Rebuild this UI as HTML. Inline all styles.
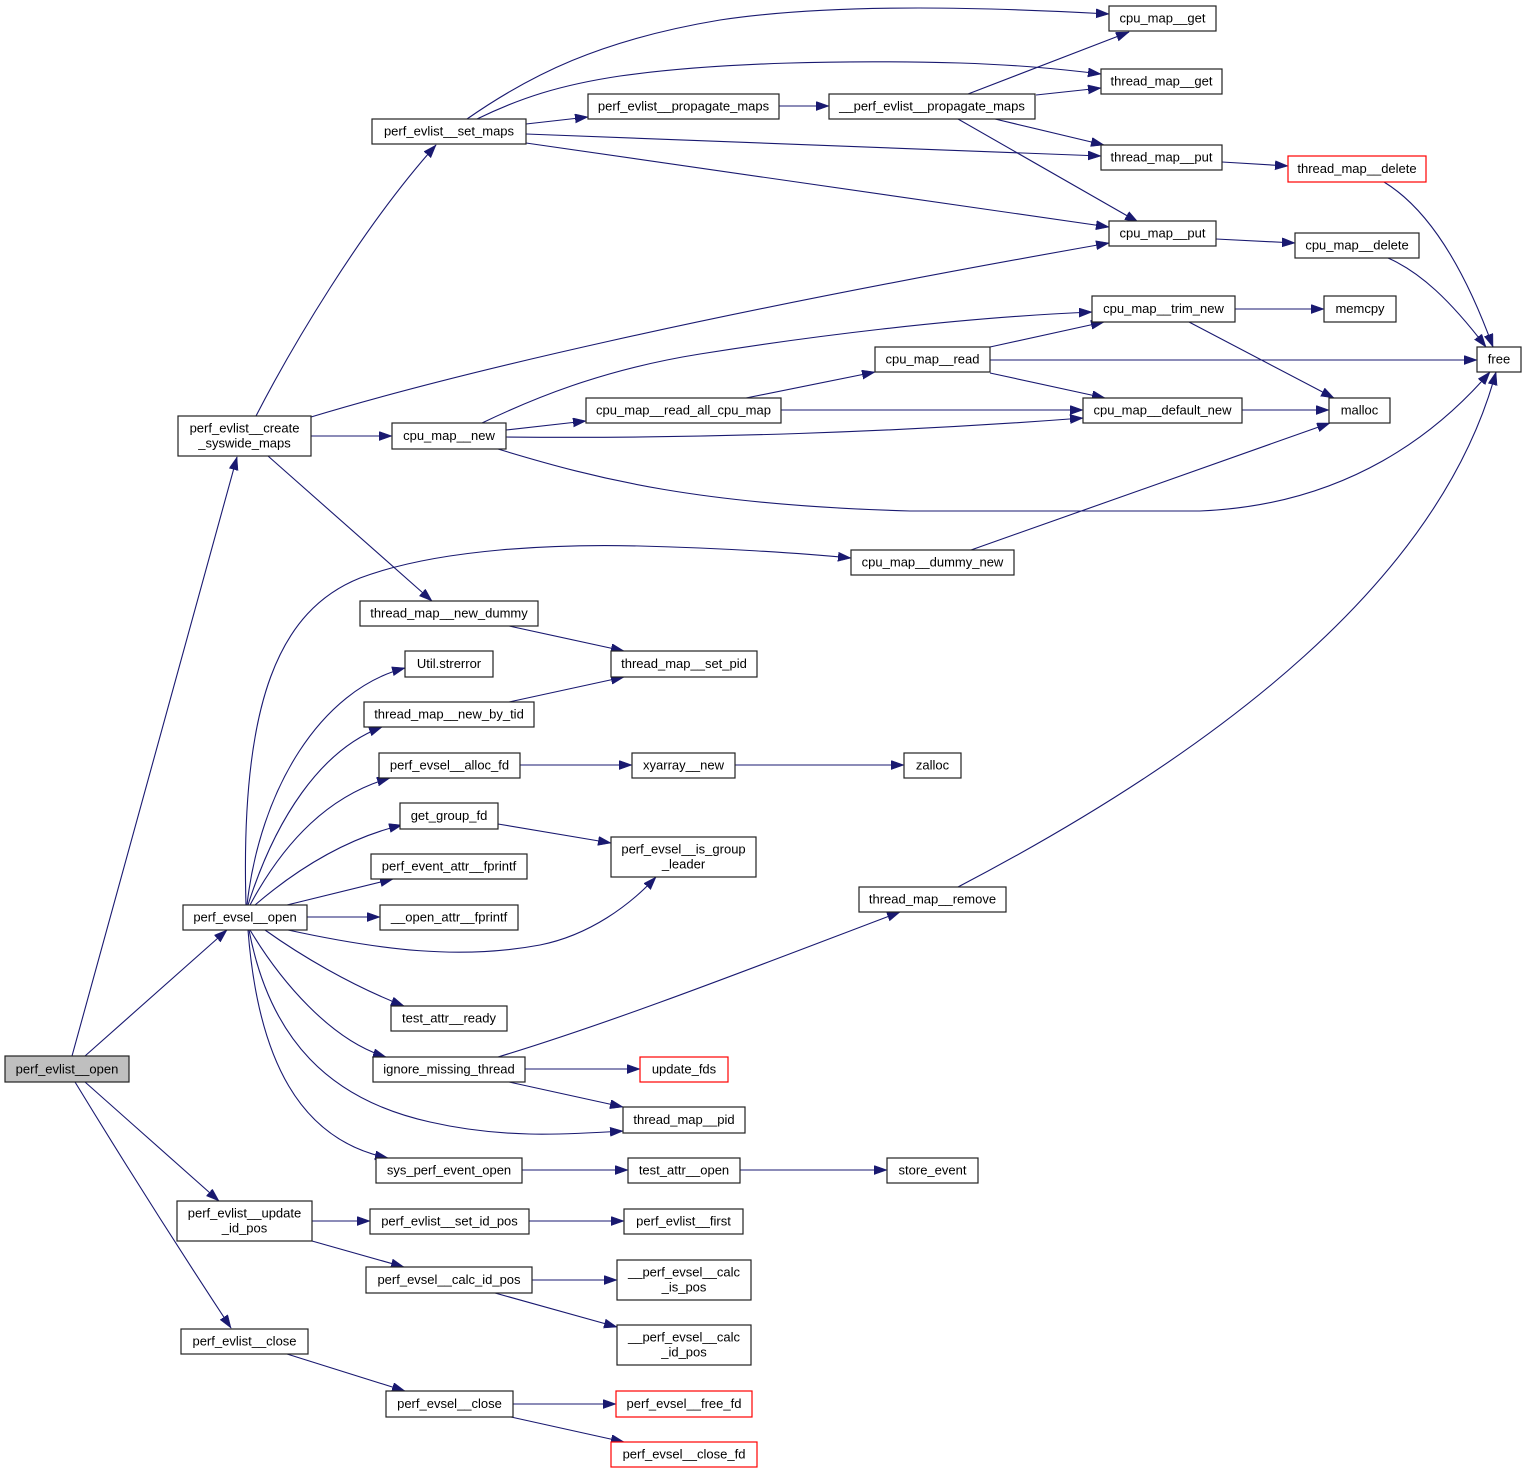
<!DOCTYPE html>
<html><head><meta charset="utf-8"><style>
html,body{margin:0;padding:0;background:#fff;}
svg{display:block;}
text{font-family:"Liberation Sans",Arial,sans-serif;font-size:13px;fill:#000;text-anchor:middle;}
.n{fill:#fff;stroke:#222;stroke-width:1.2;}
.r{fill:#fff;stroke:#ff0000;stroke-width:1.2;}
.g{fill:#bfbfbf;stroke:#222;stroke-width:1.2;}
.e{fill:none;stroke:#191970;stroke-width:1.1;marker-end:url(#a);}
</style></head><body>
<svg width="1527" height="1473" viewBox="0 0 1527 1473" xmlns="http://www.w3.org/2000/svg">
<defs>
<marker id="a" markerUnits="userSpaceOnUse" markerWidth="14" markerHeight="10" refX="13" refY="4.6" orient="auto">
<path d="M0,0 L13,4.6 L0,9.2 z" fill="#191970" stroke="#191970" stroke-width="0.5"/>
</marker>
</defs>
<rect width="1527" height="1473" fill="#fff"/>

<!-- edges -->
<path class="e" d="M72,1056 L237,457"/>
<path class="e" d="M85,1056 L227,930"/>
<path class="e" d="M85,1082 L219,1201"/>
<path class="e" d="M75,1082 Q150,1205 231,1328"/>

<path class="e" d="M256,416 C290,350 360,230 436,145"/>
<path class="e" d="M311,417 C450,375 700,315 1109,243"/>
<path class="e" d="M311,436 L392,436"/>
<path class="e" d="M268,456 L432,601"/>

<path class="e" d="M467,119 C530,75 600,40 720,20 C840,2 1000,8 1109,14"/>
<path class="e" d="M477,119 C520,98 560,85 620,76 C720,62 850,60 960,63 C1020,65 1060,69 1101,74"/>
<path class="e" d="M526,124 L588,117"/>
<path class="e" d="M526,134 L1101,156"/>
<path class="e" d="M526,143 L1109,227"/>
<path class="e" d="M779,106 L829,106"/>

<path class="e" d="M968,94 L1129,32"/>
<path class="e" d="M1036,95 L1101,88"/>
<path class="e" d="M995,119 L1104,145"/>
<path class="e" d="M958,119 L1138,222"/>
<path class="e" d="M1222,162 L1288,166"/>
<path class="e" d="M1216,239 L1295,243"/>
<path class="e" d="M1384,182 C1430,210 1465,270 1493,347"/>
<path class="e" d="M1388,258 C1420,272 1450,300 1486,347"/>

<path class="e" d="M482,423 C530,400 600,370 700,354 C800,338 950,318 1092,312"/>
<path class="e" d="M506,430 L586,421"/>
<path class="e" d="M506,437 C700,439 900,432 1083,418"/>
<path class="e" d="M498,449 C600,480 700,505 910,511 L1200,511 C1350,505 1440,430 1490,372"/>

<path class="e" d="M746,398 L875,372"/>
<path class="e" d="M781,410 L1083,410"/>
<path class="e" d="M990,347 L1104,322"/>
<path class="e" d="M990,360 L1477,360"/>
<path class="e" d="M990,373 L1105,398"/>
<path class="e" d="M1235,309 L1324,309"/>
<path class="e" d="M1189,322 L1334,398"/>
<path class="e" d="M1242,410 L1329,410"/>
<path class="e" d="M971,550 L1330,423"/>
<path class="e" d="M958,887 C1220,750 1440,580 1496,372"/>

<path class="e" d="M246,905 C240,700 280,610 360,578 C440,548 560,544 640,546 C720,548 800,553 851,558"/>
<path class="e" d="M247,905 C260,790 320,690 405,668"/>
<path class="e" d="M248,905 C275,820 320,750 382,727"/>
<path class="e" d="M250,905 C285,840 330,795 390,778"/>
<path class="e" d="M255,905 C290,875 340,840 402,825"/>
<path class="e" d="M287,905 L393,879"/>
<path class="e" d="M307,917 L380,917"/>
<path class="e" d="M288,930 C380,950 460,960 540,945 C590,935 630,905 656,877"/>
<path class="e" d="M265,930 C300,955 350,985 404,1006"/>
<path class="e" d="M250,930 C280,980 330,1040 386,1057"/>
<path class="e" d="M249,930 C270,1040 330,1100 430,1122 C500,1138 560,1135 623,1131"/>
<path class="e" d="M248,930 C258,1060 300,1140 388,1158"/>

<path class="e" d="M509,626 L624,651"/>
<path class="e" d="M509,702 L624,677"/>
<path class="e" d="M520,765 L632,765"/>
<path class="e" d="M735,765 L904,765"/>
<path class="e" d="M498,824 L611,843"/>
<path class="e" d="M525,1069 L640,1069"/>
<path class="e" d="M509,1082 L623,1107"/>
<path class="e" d="M498,1057 C620,1020 760,965 900,912"/>
<path class="e" d="M522,1170 L628,1170"/>
<path class="e" d="M740,1170 L887,1170"/>

<path class="e" d="M312,1221 L370,1221"/>
<path class="e" d="M312,1241 L404,1267"/>
<path class="e" d="M529,1221 L624,1221"/>
<path class="e" d="M532,1280 L617,1280"/>
<path class="e" d="M495,1293 L617,1327"/>
<path class="e" d="M287,1354 L405,1391"/>
<path class="e" d="M513,1404 L616,1404"/>
<path class="e" d="M511,1417 L624,1442"/>

<!-- nodes -->
<rect class="g" x="5" y="1056" width="124" height="26"/><text x="67" y="1073.5">perf_evlist__open</text>
<rect class="n" x="178" y="416" width="133" height="40"/><text x="244.5" y="432.5">perf_evlist__create</text><text x="244.5" y="447.5">_syswide_maps</text>
<rect class="n" x="183" y="905" width="124" height="25"/><text x="245" y="921.5">perf_evsel__open</text>
<rect class="n" x="177" y="1201" width="135" height="40"/><text x="244.5" y="1217.5">perf_evlist__update</text><text x="244.5" y="1232.5">_id_pos</text>
<rect class="n" x="181" y="1329" width="127" height="25"/><text x="244.5" y="1345.5">perf_evlist__close</text>

<rect class="n" x="372" y="119" width="154" height="25"/><text x="449" y="135.5">perf_evlist__set_maps</text>
<rect class="n" x="392" y="423" width="114" height="26"/><text x="449" y="440">cpu_map__new</text>
<rect class="n" x="360" y="601" width="178" height="25"/><text x="449" y="617.5">thread_map__new_dummy</text>
<rect class="n" x="405" y="651" width="88" height="26"/><text x="449" y="668">Util.strerror</text>
<rect class="n" x="364" y="702" width="170" height="25"/><text x="449" y="718.5">thread_map__new_by_tid</text>
<rect class="n" x="379" y="753" width="141" height="25"/><text x="449.5" y="769.5">perf_evsel__alloc_fd</text>
<rect class="n" x="400" y="803" width="98" height="26"/><text x="449" y="820">get_group_fd</text>
<rect class="n" x="371" y="854" width="156" height="25"/><text x="449" y="870.5">perf_event_attr__fprintf</text>
<rect class="n" x="380" y="905" width="138" height="25"/><text x="449" y="921.5">__open_attr__fprintf</text>
<rect class="n" x="391" y="1006" width="116" height="25"/><text x="449" y="1022.5">test_attr__ready</text>
<rect class="n" x="373" y="1057" width="152" height="25"/><text x="449" y="1073.5">ignore_missing_thread</text>
<rect class="n" x="376" y="1158" width="146" height="25"/><text x="449" y="1174.5">sys_perf_event_open</text>
<rect class="n" x="370" y="1209" width="159" height="25"/><text x="449.5" y="1225.5">perf_evlist__set_id_pos</text>
<rect class="n" x="366" y="1267" width="166" height="26"/><text x="449" y="1284">perf_evsel__calc_id_pos</text>
<rect class="n" x="386" y="1391" width="127" height="26"/><text x="449.5" y="1408">perf_evsel__close</text>

<rect class="n" x="588" y="94" width="191" height="25"/><text x="683.5" y="110.5">perf_evlist__propagate_maps</text>
<rect class="n" x="586" y="398" width="195" height="25"/><text x="683.5" y="414.5">cpu_map__read_all_cpu_map</text>
<rect class="n" x="611" y="651" width="146" height="26"/><text x="684" y="668">thread_map__set_pid</text>
<rect class="n" x="632" y="753" width="103" height="25"/><text x="683.5" y="769.5">xyarray__new</text>
<rect class="n" x="611" y="837" width="145" height="40"/><text x="683.5" y="853.5">perf_evsel__is_group</text><text x="683.5" y="868.5">_leader</text>
<rect class="r" x="640" y="1057" width="88" height="25"/><text x="684" y="1073.5">update_fds</text>
<rect class="n" x="623" y="1107" width="122" height="26"/><text x="684" y="1124">thread_map__pid</text>
<rect class="n" x="628" y="1158" width="112" height="25"/><text x="684" y="1174.5">test_attr__open</text>
<rect class="n" x="624" y="1209" width="119" height="25"/><text x="683.5" y="1225.5">perf_evlist__first</text>
<rect class="n" x="617" y="1260" width="134" height="40"/><text x="684" y="1276.5">__perf_evsel__calc</text><text x="684" y="1291.5">_is_pos</text>
<rect class="n" x="617" y="1325" width="134" height="40"/><text x="684" y="1341.5">__perf_evsel__calc</text><text x="684" y="1356.5">_id_pos</text>
<rect class="r" x="616" y="1391" width="136" height="26"/><text x="684" y="1408">perf_evsel__free_fd</text>
<rect class="r" x="611" y="1442" width="146" height="25"/><text x="684" y="1458.5">perf_evsel__close_fd</text>

<rect class="n" x="829" y="94" width="206" height="25"/><text x="932" y="110.5">__perf_evlist__propagate_maps</text>
<rect class="n" x="875" y="347" width="115" height="25"/><text x="932.5" y="363.5">cpu_map__read</text>
<rect class="n" x="851" y="550" width="163" height="25"/><text x="932.5" y="566.5">cpu_map__dummy_new</text>
<rect class="n" x="904" y="753" width="57" height="25"/><text x="932.5" y="769.5">zalloc</text>
<rect class="n" x="859" y="887" width="147" height="25"/><text x="932.5" y="903.5">thread_map__remove</text>
<rect class="n" x="887" y="1158" width="91" height="25"/><text x="932.5" y="1174.5">store_event</text>

<rect class="n" x="1109" y="6" width="107" height="25"/><text x="1162.5" y="22.5">cpu_map__get</text>
<rect class="n" x="1101" y="69" width="121" height="25"/><text x="1161.5" y="85.5">thread_map__get</text>
<rect class="n" x="1101" y="145" width="121" height="25"/><text x="1161.5" y="161.5">thread_map__put</text>
<rect class="n" x="1109" y="221" width="107" height="25"/><text x="1162.5" y="237.5">cpu_map__put</text>
<rect class="n" x="1092" y="296" width="143" height="26"/><text x="1163.5" y="313">cpu_map__trim_new</text>
<rect class="n" x="1083" y="398" width="159" height="25"/><text x="1162.5" y="414.5">cpu_map__default_new</text>

<rect class="r" x="1288" y="156" width="138" height="26"/><text x="1357" y="173">thread_map__delete</text>
<rect class="n" x="1295" y="233" width="124" height="25"/><text x="1357" y="249.5">cpu_map__delete</text>
<rect class="n" x="1324" y="296" width="72" height="26"/><text x="1360" y="313">memcpy</text>
<rect class="n" x="1329" y="398" width="61" height="25"/><text x="1359.5" y="414.5">malloc</text>
<rect class="n" x="1477" y="347" width="44" height="25"/><text x="1499" y="363.5">free</text>
</svg>
</body></html>
